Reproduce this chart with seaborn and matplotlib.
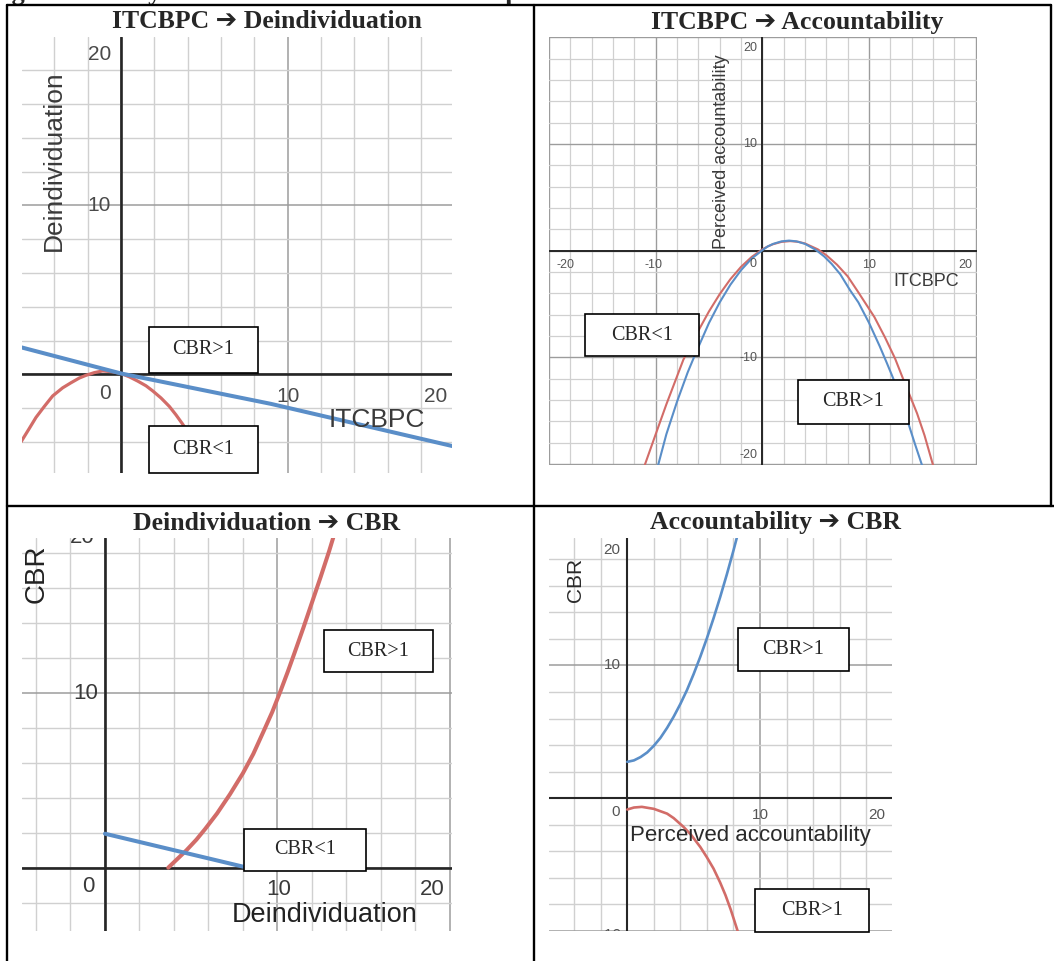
import matplotlib
matplotlib.use("Agg")
import matplotlib.pyplot as plt
import numpy as np
import seaborn as sns
from matplotlib.lines import Line2D
from matplotlib.patches import Rectangle

# ---- data ----
# ITCBPC -> Deindividuation
p1_blue_x = [-6.0, 0.0, 9.0, 19.9]
p1_blue_y = [1.6, 0.05, -1.75, -4.25]
p1_red_x = [-6.0, -5.5, -5.1, -4.6, -4.1, -3.5, -3.0, -2.5, -2.1, -1.6, -1.1, -0.5,
            0.0, 0.5, 1.0, 1.5, 1.9, 2.4, 2.9, 3.3, 3.7, 4.5]
p1_red_y = [-4.0, -3.2, -2.55, -1.9, -1.28, -0.8, -0.5, -0.22, -0.06, 0.1, 0.2, 0.15,
            0.05, -0.15, -0.4, -0.68, -0.98, -1.4, -1.9, -2.4, -2.95, -4.2]

# ITCBPC -> Accountability
p2_red_x = [-11.1, -10.0, -9.0, -7.4, -6.0, -5.0, -4.0, -3.0, -2.0, -1.0, 0.0, 0.5,
            1.0, 1.8, 2.6, 3.4, 4.0, 5.2, 6.0, 7.0, 8.0, 9.0, 10.5, 11.5, 12.44,
            13.07, 14.5, 15.2, 16.03]
p2_red_y = [-20.3, -17.2, -14.4, -10.2, -7.5, -5.68, -4.07, -2.67, -1.51, -0.58, 0.13, 0.4,
            0.61, 0.83, 0.9, 0.83, 0.68, 0.13, -0.42, -1.31, -2.4, -3.9, -6.21, -8.13, -10.1,
            -11.7, -15.24, -17.3, -20.2]
p2_blue_x = [-9.8, -9.0, -8.0, -7.0, -6.25, -5.0, -4.0, -3.0, -2.0, -1.0, 0.0, 0.5,
             1.0, 1.8, 2.5, 3.2, 4.0, 5.0, 5.8, 6.5, 7.3, 8.22, 9.0, 10.0, 11.0,
             11.66, 12.28, 13.5, 14.3, 15.1]
p2_blue_y = [-20.2, -17.2, -14.15, -11.4, -9.6, -6.76, -4.84, -3.19, -1.82, -0.73, 0.05, 0.4,
             0.64, 0.88, 0.95, 0.88, 0.64, 0.09, -0.54, -1.24, -2.2, -3.7, -4.84, -6.76, -8.95,
             -10.5, -12.0, -15.6, -18.1, -20.5]

# Deindividuation -> CBR
p3_red_x = [3.67, 4.2, 4.73, 5.3, 5.8, 6.5, 7.25, 8.0, 8.6, 9.2, 9.7, 10.18, 10.6,
            11.0, 11.5, 12.0, 12.5, 13.0, 13.4]
p3_red_y = [0.0, 0.5, 1.0, 1.6, 2.2, 3.1, 4.2, 5.4, 6.5, 7.8, 8.9, 10.1, 11.2,
            12.3, 13.7, 15.15, 16.6, 18.1, 19.4]
p3_blue_x = [0.0, 8.25]
p3_blue_y = [1.94, 0.0]

# Accountability -> CBR
p4_blue_x = [0.0, 0.5, 1.0, 1.5, 2.0, 2.5, 3.0, 3.5, 4.0, 4.5, 5.0, 5.5, 6.0, 6.5,
             7.0, 7.5, 8.0, 8.5]
p4_blue_y = [2.74, 2.85, 3.1, 3.45, 3.95, 4.55, 5.3, 6.15, 7.1, 8.15, 9.35, 10.65, 12.05,
             13.55, 15.15, 16.85, 18.65, 20.55]
p4_red_x = [0.0, 0.5, 1.1, 2.0, 3.0, 3.5, 4.24, 4.8, 5.5, 6.0, 6.5, 7.0, 7.4, 7.8, 8.3, 8.45]
p4_red_y = [-0.85, -0.7, -0.65, -0.8, -1.16, -1.5, -2.16, -2.75, -3.67, -4.45, -5.3, -6.35,
            -7.3, -8.4, -9.95, -10.5]

RED = "#d26c68"
BLUE = "#5a8ec8"

sns.set_style("white")
plt.rcParams["font.family"] = ["Liberation Sans", "DejaVu Sans"]
SERIF = ["Liberation Serif", "DejaVu Serif"]
TITLE_FONT = ["Liberation Serif", "DejaVu Sans"]

W, H = 1054, 961
fig = plt.figure(figsize=(W / 100, H / 100), dpi=100)


def px_axes(x0, y0, x1, y1):
    return fig.add_axes([x0 / W, 1 - y1 / H, (x1 - x0) / W, (y1 - y0) / H])


def desmos(ax, axis_lw, grid_lw=1.0):
    ax.set_xticks(np.arange(-20, 21, 10))
    ax.set_yticks(np.arange(-20, 21, 10))
    ax.set_xticks(np.arange(-20, 21, 2), minor=True)
    ax.set_yticks(np.arange(-20, 21, 2), minor=True)
    ax.grid(which="minor", color="#d0d0d0", lw=grid_lw)
    ax.grid(which="major", color="#9c9c9c", lw=grid_lw * 1.1)
    ax.tick_params(which="both", length=0, labelbottom=False, labelleft=False)
    for s in ax.spines.values():
        s.set_visible(False)
    ax.axhline(0, color="#262626", lw=axis_lw, zorder=2)
    ax.axvline(0, color="#262626", lw=axis_lw, zorder=2)


def finish(ax, xlim, ylim):
    ax.set_xlim(*xlim)
    ax.set_ylim(*ylim)
    ax.set_xlabel("")
    ax.set_ylabel("")


def curve(ax, x, y, color, lw):
    sns.lineplot(x=x, y=y, ax=ax, color=color, lw=lw, estimator=None, zorder=3,
                 solid_joinstyle="round", solid_capstyle="round")


def label_box(x0, y0, x1, y1, text):
    fig.add_artist(Rectangle((x0 / W, 1 - y1 / H), (x1 - x0) / W, (y1 - y0) / H,
                             transform=fig.transFigure, facecolor="white",
                             edgecolor="black", lw=1.2, zorder=5))
    fig.text((x0 + x1) / 2 / W, 1 - (y0 + y1) / 2 / H, text, ha="center", va="center",
             family=SERIF, fontsize=14.5, zorder=6)


def fig_line(x0, y0, x1, y1):
    fig.add_artist(Line2D([x0 / W, x1 / W], [1 - y0 / H, 1 - y1 / H],
                          transform=fig.transFigure, color="black", lw=1.7, zorder=7))


# ---- panel 1 ----
ax1 = px_axes(22, 37, 452, 473)
desmos(ax1, 1.9)
curve(ax1, p1_red_x, p1_red_y, RED, 2.3)
curve(ax1, p1_blue_x, p1_blue_y, BLUE, 2.9)
finish(ax1, (-5.94, 19.86), (-5.84, 19.96))
tk1 = dict(fontsize=15, color="#4a4a4a")
ax1.text(-0.6, 18.9, "20", ha="right", va="center", **tk1)
ax1.text(-0.6, 10.0, "10", ha="right", va="center", **tk1)
ax1.text(-0.6, -1.12, "0", ha="right", va="center", **tk1)
ax1.text(10.0, -1.32, "10", ha="center", va="center", **tk1)
ax1.text(18.9, -1.32, "20", ha="center", va="center", **tk1)
ax1.text(15.33, -2.7, "ITCBPC", ha="center", va="center", fontsize=19, color="#3a3a3a")
ax1.text(-4.0, 12.65, "Deindividuation", ha="center", va="center", rotation=90,
         fontsize=19, color="#3a3a3a")

# ---- panel 2 ----
ax2 = px_axes(549, 37, 977, 465)
desmos(ax2, 1.4, 0.9)
curve(ax2, p2_red_x, p2_red_y, RED, 1.5)
curve(ax2, p2_blue_x, p2_blue_y, BLUE, 1.5)
finish(ax2, (-20.0, 20.12), (-20.08, 20.03))
tk2 = dict(fontsize=9, color="#555555")
for xv, lab in [(-18.5, "-20"), (-10.2, "-10"), (10.0, "10"), (19.0, "20")]:
    ax2.text(xv, -1.35, lab, ha="center", va="center", **tk2)
ax2.text(-0.9, -1.2, "0", ha="center", va="center", **tk2)
for yv, lab in [(18.97, "20"), (10.0, "10"), (-10.08, "-10"), (-19.15, "-20")]:
    ax2.text(-0.5, yv, lab, ha="right", va="center", **tk2)
ax2.text(15.4, -2.9, "ITCBPC", ha="center", va="center", fontsize=13, color="#3a3a3a")
ax2.text(-3.8, 9.28, "Perceived accountability", ha="center", va="center", rotation=90,
         fontsize=13, color="#3a3a3a")

# ---- panel 3 ----
ax3 = px_axes(22, 538, 452, 931)
desmos(ax3, 1.9)
curve(ax3, p3_red_x, p3_red_y, RED, 2.9)
curve(ax3, p3_blue_x, p3_blue_y, BLUE, 2.9)
finish(ax3, (-4.81, 20.12), (-3.62, 18.84))
tk3 = dict(fontsize=16, color="#3a3a3a")
ax3.text(-1.29, 18.25, "20", ha="center", va="bottom", clip_on=True, **tk3)
ax3.text(-0.4, 9.97, "10", ha="right", va="center", **tk3)
ax3.text(-0.97, -1.05, "0", ha="center", va="center", **tk3)
ax3.text(10.05, -1.23, "10", ha="center", va="center", **tk3)
ax3.text(18.97, -1.23, "20", ha="center", va="center", **tk3)
ax3.text(12.75, -2.7, "Deindividuation", ha="center", va="center", fontsize=19.5, color="#222222")
ax3.text(-3.96, 16.77, "CBR", ha="center", va="center", rotation=90, fontsize=20, color="#222222")

# ---- panel 4 ----
ax4 = px_axes(549, 538, 892, 931)
desmos(ax4, 1.5)
curve(ax4, p4_blue_x, p4_blue_y, BLUE, 1.9)
curve(ax4, p4_red_x, p4_red_y, RED, 1.9)
finish(ax4, (-5.9, 19.95), (-10.0, 19.6))
tk4 = dict(fontsize=11, color="#555555")
ax4.text(-0.5, 18.7, "20", ha="right", va="center", **tk4)
ax4.text(-0.5, 10.0, "10", ha="right", va="center", **tk4)
ax4.text(-0.85, -1.0, "0", ha="center", va="center", **tk4)
ax4.text(10.0, -1.26, "10", ha="center", va="center", **tk4)
ax4.text(18.8, -1.26, "20", ha="center", va="center", **tk4)
ax4.text(-1.3, -9.75, "-10", ha="center", va="top", clip_on=True, **tk4)
ax4.text(9.3, -2.77, "Perceived accountability", ha="center", va="center", fontsize=16,
         color="#2a2a2a")
ax4.text(-3.94, 16.45, "CBR", ha="center", va="center", rotation=90, fontsize=15, color="#2a2a2a")

# ---- titles ----
for cx, cy, t in [(267, 22, "ITCBPC \u2794 Deindividuation"),
                  (797, 22, "ITCBPC \u2794 Accountability"),
                  (267, 523, "Deindividuation \u2794 CBR"),
                  (776, 523, "Accountability \u2794 CBR")]:
    fig.text(cx / W, 1 - cy / H, t, ha="center", va="center", family=TITLE_FONT,
             fontweight="bold", fontsize=18.5)

# caption cut off at the top of the screenshot
fig.text(-12 / W, 1.0, "Figure 4. Analysis of the mediation relationships",
         ha="left", va="baseline", family=SERIF, fontweight="bold", fontsize=19)

# ---- CBR boxes ----
label_box(149, 327, 258, 373, "CBR>1")
label_box(149, 426, 258, 473, "CBR<1")
label_box(585, 314, 699, 356, "CBR<1")
label_box(798, 380, 909, 424, "CBR>1")
label_box(324, 630, 433, 672, "CBR>1")
label_box(244, 829, 366, 871, "CBR<1")
label_box(738, 628, 849, 671, "CBR>1")
label_box(755, 889, 869, 932, "CBR>1")

# ---- table rules ----
fig_line(7, 5, 1051, 5)
fig_line(7, 5, 7, 961)
fig_line(534, 5, 534, 961)
fig_line(1051, 5, 1051, 506)
fig_line(7, 506, 1054, 506)

fig.savefig("out.png", dpi=100)
